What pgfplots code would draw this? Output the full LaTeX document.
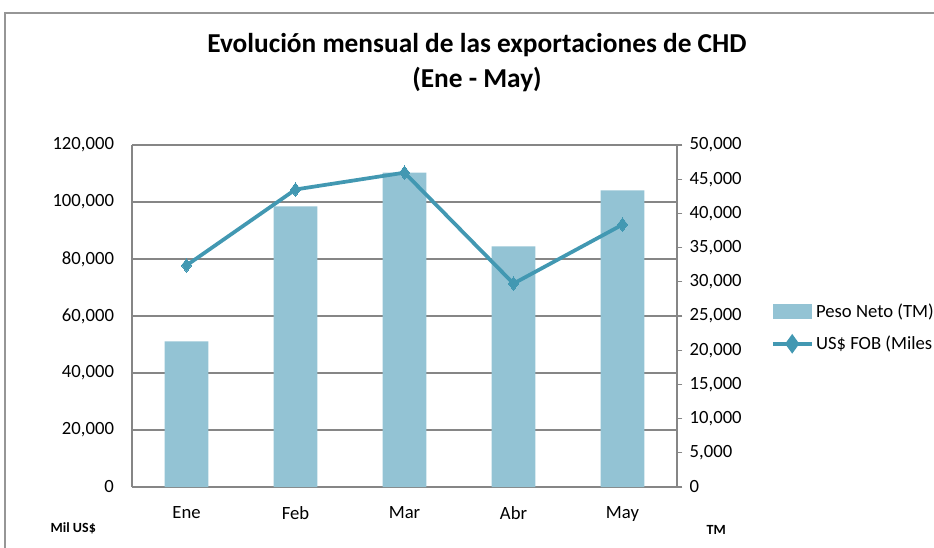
\documentclass[border=0pt]{standalone}
\usepackage{pgfplots}
\pgfplotsset{compat=1.18}
\usepackage{fontspec}
\setmainfont{Carlito}
\definecolor{barblue}{RGB}{147,195,212}
\definecolor{lineblue}{RGB}{66,152,178}
\definecolor{gridgray}{RGB}{134,134,134}
\definecolor{framegray}{RGB}{150,150,150}
\begin{document}
\begin{tikzpicture}
\path[use as bounding box] (0pt,0pt) rectangle (700.5pt,410.25pt);
\begin{scope}[x=0.75pt,y=0.75pt]
\draw[framegray,line width=1pt] (5,-5) -- (5,534) -- (940,534);
\node[font=\bfseries\fontsize{20.5}{24}\selectfont] at (477,502) {Evolución mensual de las exportaciones de CHD};
\node[font=\bfseries\fontsize{20.5}{24}\selectfont] at (477,467) {(Ene - May)};
\node[font=\bfseries\fontsize{10.5}{12}\selectfont,anchor=west] at (46,19) {Mil US\$};
\node[font=\bfseries\fontsize{10.5}{12}\selectfont,anchor=west] at (702,17) {TM};
\end{scope}
\begin{axis}[
  at={(99pt,45pt)}, anchor=south west,
  scale only axis, width=408.75pt, height=256.5pt,
  xmin=-0.5, xmax=4.5, ymin=0, ymax=120000,
  xtick={0,1,2,3,4}, xticklabels={Ene,Feb,Mar,Abr,May},
  ytick={0,20000,40000,60000,80000,100000,120000},
  axis y line*=left, axis x line*=bottom,
  axis line style={gridgray,line width=0.8pt},
  ymajorgrids, grid style={gridgray,line width=0.8pt},
  major tick length=0pt,
  tick label style={font=\fontsize{14}{16}\selectfont},
  xticklabel style={yshift=-11pt},
  yticklabel style={xshift=-10pt},
  scaled y ticks=false,
  /pgf/number format/.cd, fixed, 1000 sep={,}, assume math mode=true,
]
\addplot[ybar, bar width=0.4, fill=barblue, draw=none] coordinates {
  (0,51100) (1,98500) (2,110300) (3,84450) (4,104100)};
\end{axis}
\begin{axis}[
  at={(99pt,45pt)}, anchor=south west,
  scale only axis, width=408.75pt, height=256.5pt,
  xmin=-0.5, xmax=4.5, ymin=0, ymax=50000,
  axis x line=none, axis y line*=right,
  axis line style={gridgray,line width=0.8pt},
  ytick={0,5000,...,50000},
  tick style={gridgray,line width=0.8pt},
  major tick length=4pt,
  tick align=outside,
  tick label style={font=\fontsize{14}{16}\selectfont},
  yticklabel style={xshift=2pt},
  scaled y ticks=false,
  legend style={at={(1.172,0.465)}, anchor=west, draw=none, fill=none,
    font=\fontsize{14}{16}\selectfont, row sep=8pt, inner sep=0pt},
  legend cell align=left,
  /pgf/number format/.cd, fixed, 1000 sep={,}, assume math mode=true,
]
\addlegendimage{area legend, fill=barblue, draw=none, legend image code/.code={\fill[barblue] (0pt,-5pt) rectangle (29pt,6pt);}}
\addlegendentry{Peso Neto (TM)}
\addplot[lineblue, line width=2.8pt, mark=diamond*, mark size=5pt, mark options={fill=lineblue,line width=0pt},
  legend image code/.code={\draw[lineblue,line width=2.8pt] (0pt,0pt) -- (29pt,0pt); \fill[lineblue] (14.5pt,0pt) +(0,5pt) -- +(3.6pt,0) -- +(0,-5pt) -- +(-3.6pt,0) -- cycle;}]
  coordinates {(0,32400) (1,43500) (2,45960) (3,29740) (4,38360)};
\addlegendentry{US\$ FOB (Miles US\$)}
\end{axis}
\end{tikzpicture}
\end{document}
